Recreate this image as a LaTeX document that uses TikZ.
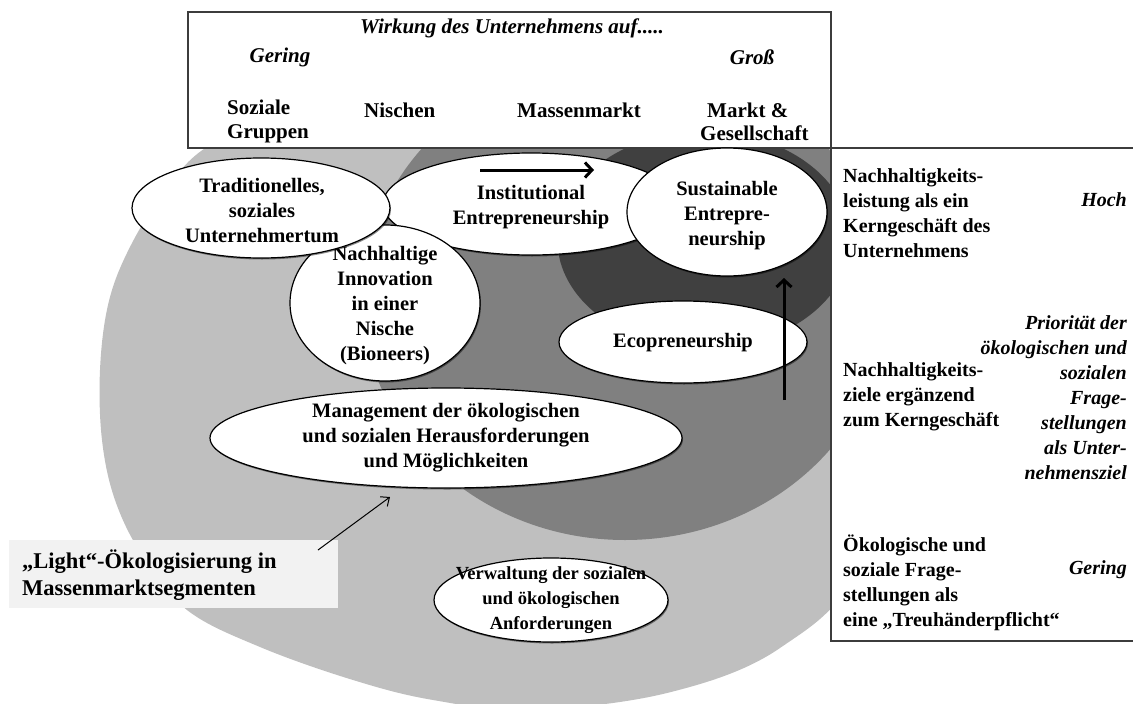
\documentclass[tikz,border=0pt]{standalone}
\usepackage{fontspec}
\setmainfont{Liberation Serif}
\usetikzlibrary{arrows.meta,shapes.geometric,shadows}

\definecolor{lightfield}{HTML}{BFBFBF}
\definecolor{midfield}{HTML}{808080}
\definecolor{darkfield}{HTML}{404040}
\definecolor{framegray}{HTML}{3C3C3C}
\definecolor{notefill}{HTML}{F2F2F2}

\begin{document}
\begin{tikzpicture}[x=1pt,y=-1pt,
  oval/.style={ellipse, draw=black, line width=1.2pt, fill=white, inner sep=0pt,
    drop shadow={shadow xshift=1pt, shadow yshift=-1.5pt, opacity=0.45, fill=black}},
  ovaltext/.style={inner sep=0pt, align=center, font=\fontsize{20.5}{25}\selectfont\bfseries},
  frame/.style={draw=framegray, line width=2.5pt, fill=white},
  headtxt/.style={inner sep=0pt, anchor=west, align=left, font=\fontsize{21}{24}\selectfont\bfseries},
  headital/.style={inner sep=0pt, font=\fontsize{21}{24}\selectfont\bfseries\itshape},
  sidetxt/.style={inner sep=0pt, anchor=west, align=left, font=\fontsize{20}{25}\selectfont\bfseries},
  sideital/.style={inner sep=0pt, anchor=east, align=right, font=\fontsize{20}{25}\selectfont\bfseries\itshape},
  bigarrow/.style={line width=3pt, -{Straight Barb[length=7pt,width=15pt]}},
  thinarrow/.style={line width=1pt, -{Straight Barb[length=7pt,width=12pt]}},
]
\useasboundingbox (0,0) rectangle (1133,704);

% nested grey fields
\begin{scope}
  \clip (0,148) rectangle (831,704);
  \fill[lightfield] plot[smooth cycle, tension=0.6] coordinates {
    (300,110) (207,147) (160,198) (127,253) (108,305) (100,370) (102,440)
    (115,500) (142,555) (187,610) (260,647) (353,680) (433,700) (530,710)
    (667,693) (780,648) (860,560) (890,350) (820,120) (550,90)};
  \fill[midfield] (625,300) ellipse[x radius=262, y radius=240];
  \fill[darkfield] (704,240) ellipse[x radius=146.6, y radius=108.6];
\end{scope}

% frames
\draw[frame] (831,148) rectangle (1150,641);
\draw[frame] (188,12) rectangle (831,148);

% headline
\node[headital] (wirkung) at (512,28) {Wirkung des Unternehmens auf.....};
\node[headital] (gering1) at (280,57) {Gering};
\node[headital] (gross) at (752,57) {Groß};
\node[headtxt] (soz) at (227,121) {Soziale\\Gruppen};
\node[headtxt] (nisch) at (364,110) {Nischen};
\node[headtxt] (masse) at (517,110) {Massenmarkt};
\node[headtxt] (markt) at (707,110) {Markt \&};
\node[headtxt] (gesell) at (700,133) {Gesellschaft};

% side column
\node[sidetxt] (kern) at (843,213) {Nachhaltigkeits-\\leistung als ein\\Kerngeschäft des\\Unternehmens};
\node[sideital] (hoch) at (1127,200) {Hoch};
\node[sideital] (prio) at (1127,398) {Priorität der\\ökologischen und\hspace*{6pt}\\sozialen\\Frage-\\stellungen\\als Unter-\\nehmensziel};
\node[sidetxt] (ziele) at (843,397) {Nachhaltigkeits-\\ziele ergänzend\\zum Kerngeschäft};
\node[sidetxt] (treu) at (843,583) {Ökologische und\\soziale Frage-\\stellungen als\\eine „Treuhänderpflicht“};
\node[sideital] (gering2) at (1127,570) {Gering};

% ovals
\node[oval, minimum width=296pt, minimum height=102pt] (inst) at (531,204) {};
\node[ovaltext] (inst-t) at (531,207) {Institutional\\Entrepreneurship};
\node[oval, minimum width=190pt, minimum height=156pt] (nisch-o) at (385,303) {};
\node[ovaltext] (nisch-t) at (385,306) {Nachhaltige\\Innovation\\in einer\\Nische\\(Bioneers)};
\node[oval, minimum width=258pt, minimum height=100pt] (trad) at (261,208) {};
\node[ovaltext] (trad-t) at (262,211) {Traditionelles,\\soziales\\Unternehmertum};
\node[oval, minimum width=200pt, minimum height=128pt] (sust) at (727,212) {};
\node[ovaltext] (sust-t) at (727,216) {Sustainable\\Entrepre-\\neurship};
\node[oval, minimum width=248pt, minimum height=82pt] (eco) at (683,342) {};
\node[ovaltext] (eco-t) at (683,343) {Ecopreneurship};
\node[oval, minimum width=472pt, minimum height=100pt] (mgmt) at (446,438) {};
\node[ovaltext] (mgmt-t) at (446,438) {Management der ökologischen\\und sozialen Herausforderungen\\und Möglichkeiten};
\node[oval, minimum width=234pt, minimum height=84pt] (verw) at (551,600) {};
\node[ovaltext, font=\fontsize{18.5}{25}\selectfont\bfseries] (verw-t) at (551,600) {Verwaltung der sozialen\\und ökologischen\\Anforderungen};

% note box
\node[fill=notefill, minimum width=329pt, minimum height=68pt, inner sep=0pt] (light) at (173.5,574) {};
\node[inner sep=0pt, anchor=west, align=left, font=\fontsize{22.5}{27}\selectfont\bfseries]
  (light-t) at (22,575) {„Light“-Ökologisierung in\\Massenmarktsegmenten};

% arrows
\coordinate (h1) at (480,170);
\coordinate (h2) at (594,170);
\draw[bigarrow] (h1) -- (h2);
\coordinate (v1) at (784,400);
\coordinate (v2) at (784,278);
\draw[bigarrow] (v1) -- (v2);
\coordinate (l1) at (318,550);
\coordinate (l2) at (390,497);
\draw[thinarrow] (l1) -- (l2);
\end{tikzpicture}
\end{document}
